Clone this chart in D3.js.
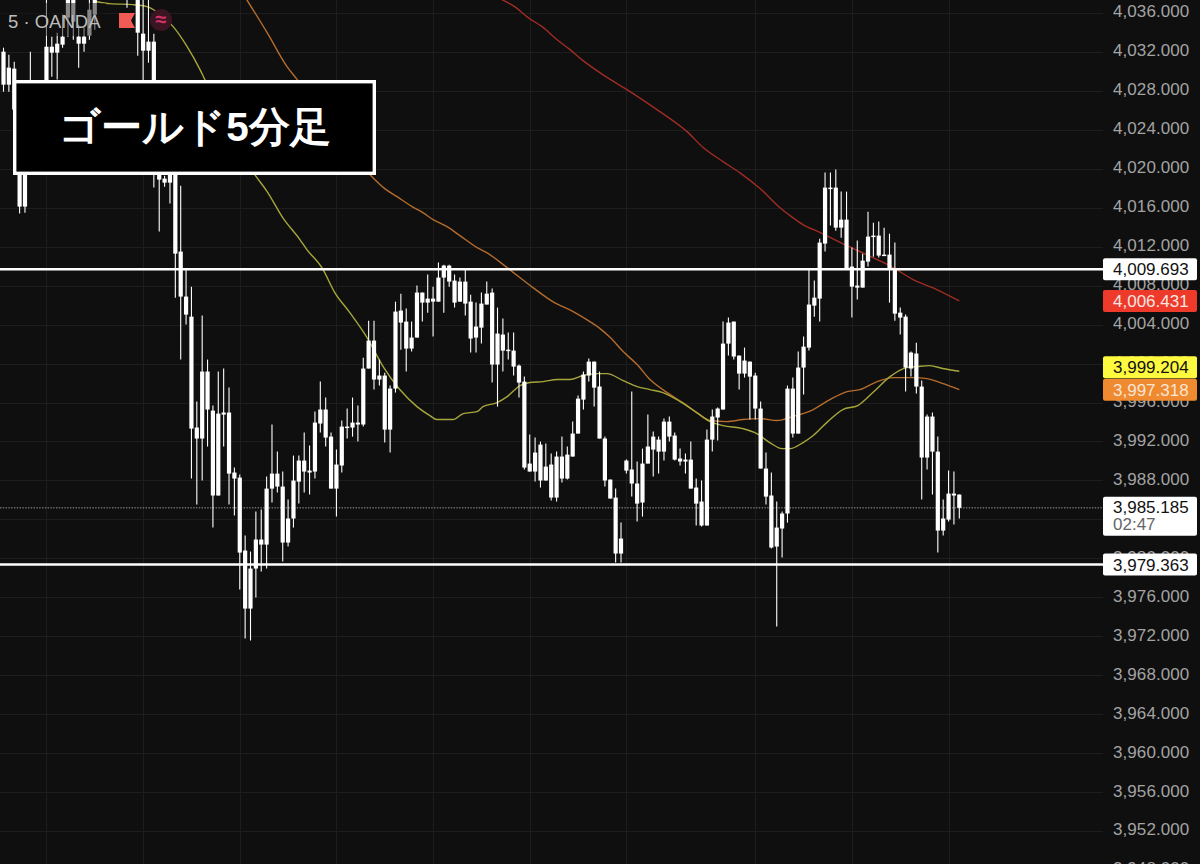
<!DOCTYPE html>
<html lang="ja">
<head>
<meta charset="utf-8">
<script src="https://cdnjs.cloudflare.com/ajax/libs/d3/7.8.5/d3.min.js"></script>
<style>
html,body{margin:0;padding:0;background:#0f0f0f;overflow:hidden}
svg{display:block}
text{font-family:"Liberation Sans",Arial,sans-serif}
</style>
</head>
<body>
<svg id="c" width="1200" height="864"></svg>
<script>
// Body top / body bottom / wick high / wick low, one entry per 5-minute candle
const bodyTop = [4032.03,4030.39,4030.29,4027.10,4024.54,4028.13,4027.62,4028.13,4032.54,4032.54,
4032.85,4033.57,4037.88,4037.88,4033.57,4033.57,4036.34,4038.19,4040.2,4041.0,
4040.6,4040.0,4039.8,4039.6,4039.4,4037.88,4033.88,4033.06,4033.06,4019.92,
4018.99,4019.92,4019.71,4011.50,4006.88,4004.82,3993.43,3999.18,3999.18,3995.17,
3994.86,3994.97,3994.97,3988.81,3988.29,3980.80,3978.95,3981.93,3981.93,3987.16,
3988.70,3988.70,3987.37,3984.09,3987.99,3990.04,3990.04,3989.01,3993.94,3995.28,
3995.28,3992.50,3989.63,3993.53,3993.53,3993.94,3993.94,3999.49,4002.36,4002.36,
3998.77,3998.77,3997.43,4005.34,4005.44,4004.31,4002.67,4007.29,4007.29,4006.67,
4006.67,4008.83,4010.06,4010.06,4008.52,4008.42,4008.42,4006.36,4003.80,4006.16,
4007.18,4007.29,4003.08,4002.98,4001.43,4001.33,3999.79,3998.15,3989.73,3990.86,
3991.68,3989.42,3989.63,3990.45,3990.45,3990.65,3992.81,3996.40,3998.87,4000.20,
4000.20,3997.64,3992.30,3988.09,3986.24,3982.03,3990.04,3989.12,3987.68,3989.73,
3991.48,3992.50,3992.19,3994.04,3994.04,3992.61,3990.25,3990.14,3990.14,3987.27,
3985.83,3992.19,3994.56,3995.38,4002.05,4004.21,4004.31,4000.82,4000.31,4000.20,
3998.77,3995.38,3989.22,3986.45,3983.16,3984.60,3997.43,3997.43,3999.59,4001.74,
4006.06,4006.77,4012.42,4018.07,4018.07,4018.07,4014.78,4014.78,4009.96,4008.01,
4010.57,4013.04,4013.14,4013.14,4011.19,4011.19,4009.65,4005.23,4004.82,4001.13,
4001.03,3997.64,3994.56,3994.56,3990.96,3984.09,3986.65,3986.65,3986.55];
const bodyBottom = [4028.64,4028.64,4026.08,4016.12,4016.12,4026.08,4025.56,4025.26,4025.05,4031.93,
4031.93,4032.75,4035.52,4035.11,4032.85,4032.85,4033.67,4035.83,4038.6,4039.4,
4039.2,4038.8,4038.6,4038.2,4038.0,4033.98,4032.13,4032.13,4019.51,4018.89,
4018.58,4018.58,4011.29,4006.88,4005.03,3993.32,3992.30,3992.30,3995.28,3986.45,
3986.45,3994.76,3988.70,3988.19,3980.59,3974.84,3974.84,3978.95,3981.41,3981.41,
3987.16,3987.37,3981.62,3981.62,3984.09,3987.88,3988.91,3988.81,3988.91,3993.84,
3992.40,3987.16,3987.16,3989.53,3993.43,3993.43,3993.74,3993.74,3999.49,3998.36,
3998.36,3993.22,3993.22,3997.43,4004.21,4001.54,4001.54,4002.67,4006.26,4006.26,
4006.36,4006.36,4008.83,4008.42,4006.26,4006.36,4006.16,4002.57,4002.67,4003.69,
4006.06,3999.90,3999.90,4001.33,4001.33,3999.69,3998.05,3989.32,3988.91,3988.91,
3987.99,3987.99,3986.24,3986.24,3988.19,3988.19,3990.45,3992.81,3996.30,3998.77,
3997.53,3992.30,3987.99,3986.14,3980.49,3980.49,3989.01,3987.68,3985.62,3985.73,
3989.73,3991.17,3990.96,3990.96,3992.50,3990.14,3989.94,3989.94,3987.16,3985.62,
3983.37,3983.37,3992.19,3994.46,3995.28,4002.05,4000.72,3998.97,3998.97,3998.66,
3995.38,3989.22,3986.34,3981.11,3981.21,3983.06,3984.60,3992.81,3992.81,3999.59,
4001.64,4005.95,4006.67,4012.32,4017.97,4013.96,4013.96,4009.75,4007.90,4007.80,
4007.80,4010.47,4013.04,4011.09,4011.09,4009.65,4005.13,4004.72,3999.59,3999.49,
3997.64,3990.35,3990.35,3990.96,3982.85,3982.85,3983.98,3986.45,3985.185];
const wickHigh = [4032.44,4031.72,4031.00,4027.62,4025.56,4032.03,4028.33,4028.64,4037.88,4033.57,
4033.98,4035.83,4038.40,4038.40,4034.80,4034.50,4037.88,4038.60,4041.0,4041.6,
4041.4,4040.8,4040.4,4040.2,4040.0,4038.40,4037.88,4037.88,4033.88,4021.97,
4019.30,4020.43,4019.92,4018.27,4009.65,4007.90,3996.10,4004.93,4000.41,3995.69,
3999.18,3999.49,3997.53,3989.32,3988.60,3982.34,3980.70,3984.80,3985.01,3988.40,
3993.74,3990.96,3988.91,3986.04,3990.55,3990.55,3992.91,3991.58,3995.07,3998.15,
3996.51,3992.91,3991.17,3994.15,3995.38,3996.51,3995.69,4000.61,4004.41,4004.41,
4000.41,3999.07,3997.74,4006.36,4007.18,4005.65,4004.31,4008.01,4007.29,4009.14,
4007.90,4010.37,4010.16,4010.16,4009.14,4008.83,4009.65,4007.08,4006.26,4007.29,
4008.42,4007.70,4005.75,4004.62,4003.18,4003.18,3999.90,3998.66,3992.71,3992.40,
3991.99,3991.78,3990.76,3990.96,3992.50,3991.48,3994.04,3996.71,3999.18,4000.51,
4000.20,3999.18,3992.50,3988.09,3987.16,3983.67,3990.14,3997.12,3989.94,3991.27,
3994.76,3993.02,3992.50,3994.35,3994.56,3992.91,3991.27,3990.76,3991.99,3988.19,
3987.99,3993.22,3995.28,3995.48,4004.31,4004.72,4004.31,4000.82,4001.64,4000.20,
3999.07,3996.10,3990.86,3988.81,3985.83,3984.80,3997.74,3998.56,4001.23,4002.77,
4009.65,4008.52,4012.83,4019.61,4019.61,4019.92,4017.66,4017.66,4011.91,4012.63,
4011.29,4015.60,4014.47,4014.58,4013.96,4013.34,4012.42,4005.75,4005.03,4001.23,
4002.15,3998.25,3994.76,3994.97,3992.50,3986.04,3989.01,3988.91,3986.55];
const wickLow = [4027.92,4027.92,4025.26,4015.40,4015.50,4024.54,4024.54,4024.02,4024.02,4029.46,
4029.16,4032.44,4033.57,4033.26,4030.39,4032.03,4033.26,4034.29,4037.8,4038.2,
4038.4,4038.2,4038.0,4036.55,4037.7,4031.62,4027.10,4030.90,4018.07,4013.55,
4018.17,4016.43,4006.77,4000.41,4004.00,3988.19,3985.52,3987.99,3991.48,3983.16,
3986.45,3991.48,3985.52,3984.39,3976.80,3971.76,3971.56,3975.97,3978.64,3978.95,
3985.73,3986.75,3979.67,3981.21,3983.16,3985.62,3986.75,3986.55,3988.19,3992.91,
3991.48,3987.16,3984.29,3988.81,3992.30,3992.50,3991.99,3993.53,3999.49,3997.33,
3997.74,3991.89,3990.86,3997.02,4001.43,3999.18,4001.23,4002.67,4004.31,4005.23,
4002.77,4006.36,4005.23,4007.90,4005.75,4006.36,4004.93,4001.13,4001.13,4002.05,
4006.06,3998.05,3995.58,3999.18,4000.41,3998.77,3996.51,3989.12,3988.91,3987.88,
3987.27,3987.99,3985.93,3985.83,3987.78,3988.09,3990.45,3992.81,3995.28,3998.15,
3995.58,3992.30,3987.37,3986.14,3979.57,3979.57,3988.70,3986.34,3983.78,3984.29,
3989.73,3988.40,3988.70,3990.04,3991.99,3990.04,3989.53,3988.70,3987.16,3983.37,
3983.26,3983.37,3990.96,3992.09,3995.28,4000.82,4000.41,3997.33,3998.56,3994.25,
3994.25,3989.22,3985.52,3981.01,3973.00,3980.08,3983.67,3992.40,3992.81,3996.82,
4001.33,4004.82,4004.31,4011.50,4014.17,4013.65,4012.93,4009.75,4004.72,4006.57,
4007.80,4009.96,4010.98,4010.88,4011.09,4006.26,4004.41,4002.98,3997.12,3998.66,
3996.92,3986.04,3989.12,3986.55,3980.59,3982.34,3983.78,3983.47,3984.09];

// Moving averages: candle position and price
const yellowIdx = [17.4,19.8,24.1,26.7,29.7,31.6,34.2,36.6,37.5,46.8,49.1,52,55.2,56.5,59.3,61.7,64.5,67.7,70.7,73.8,77,79.4,80.7,83.7,85.6,88.2,89.3,91.9,93.8,96.2,98,100.5,103.1,105.5,107.9,110.5,112.4,115.4,118,120.4,122.8,126,129.1,131.6,134,137.7,140.3,142.7,145,146.5,148.9,150.8,153.5,156.3,159.1,161.9,165.1,168.2,170.1,172.5,174.9,178];
const yellowVal = [4037.16,4036.96,4036.86,4036.65,4035.62,4034.60,4032.54,4030.18,4029.16,4019.40,4017.66,4014.99,4012.73,4011.70,4009.85,4007.29,4005.23,4002.67,3999.69,3997.33,3995.58,3994.66,3994.25,3994.25,3994.86,3995.07,3995.58,3995.99,3996.61,3997.74,3998.05,3998.15,3998.36,3998.36,3998.77,3998.97,3998.97,3998.25,3997.64,3997.33,3997.02,3996.10,3994.97,3994.04,3993.63,3993.32,3992.81,3991.89,3991.27,3991.27,3991.89,3992.61,3994.04,3995.28,3995.69,3997.02,3998.66,3999.59,3999.69,3999.79,3999.49,3999.204];
const orangeIdx = [45.3,49.1,52.8,54.7,68.6,71,73.3,76.1,78.1,80,82.6,85,88.2,90,93.8,98.6,102.3,106.1,109.2,111.1,113,115.4,118,120.4,123.6,126.5,129.1,131.6,134.7,137.7,140.9,144.1,147,150.8,153.9,157.1,159.5,162.7,165.7,169.5,172,175,178];
const orangeVal = [4037.37,4033.98,4030.49,4029.16,4019.20,4017.97,4017.14,4016.12,4015.50,4014.78,4014.06,4013.14,4011.91,4011.39,4009.85,4007.80,4006.36,4005.34,4004.31,4003.59,4002.67,4001.23,3999.90,3998.36,3997.02,3995.99,3994.97,3994.15,3994.04,3994.25,3994.35,3994.15,3994.56,3995.28,3996.30,3997.12,3997.33,3998.15,3998.56,3998.56,3998.46,3997.94,3997.318];
const redIdx = [92.8,95.2,97.7,100.3,103.1,105.5,107.7,111.6,116.1,121.7,123.6,127.3,130.3,134,137.1,140.9,144.6,147,148.9,152.1,157.1,161.9,165.7,169.4,173.8,178];
const redVal = [4037.37,4036.65,4035.52,4034.60,4033.26,4032.24,4031.21,4029.67,4028.13,4026.08,4025.36,4023.82,4022.18,4020.74,4019.61,4017.97,4016.01,4014.99,4014.27,4013.45,4012.11,4010.88,4009.85,4008.62,4007.60,4006.431];

// Levels, ticks and labels
const upperLevel = 4009.693;
const lowerLevel = 3979.363;
const lastPrice = 3985.185;
const countdown = "02:47";
const priceTicks = d3.range(3948, 4037, 4);
const timeGridIdx = [8,26,44,62,80,98,116,140,158,176];
const axisTags = [
  {v:lowerLevel, fill:"#ffffff", text:"#111111"},
  {v:3997.318, fill:"#ef8a31", text:"#f8e6d4"},
  {v:3999.204, fill:"#fdf93f", text:"#111111"},
  {v:4006.431, fill:"#ee3a2b", text:"#f5e6e0"},
  {v:upperLevel, fill:"#ffffff", text:"#111111"}
];
const titleText = "ゴールド5分足";
const legendText = "5 · OANDA";

const W = 1200, H = 864, plotRight = 1103;
const svg = d3.select("#c");
const x = d3.scaleLinear().domain([0,178]).range([3.5,959.3]);
const y = d3.scaleLinear().domain([3952,4036]).range([831,13]);
const fmt = d3.format(",.3f");

svg.append("rect").attr("width",W).attr("height",H).attr("fill","#0f0f0f");

// grid
const grid = svg.append("g").attr("stroke","#1d1d1d").attr("stroke-width",1);
grid.selectAll("line.h").data(priceTicks).join("line").attr("class","h")
  .attr("x1",0).attr("x2",plotRight).attr("y1",d=>Math.round(y(d))+.5).attr("y2",d=>Math.round(y(d))+.5);
grid.selectAll("line.v").data(timeGridIdx).join("line").attr("class","v")
  .attr("x1",d=>Math.round(x(d))+.5).attr("x2",d=>Math.round(x(d))+.5).attr("y1",0).attr("y2",H);

// moving averages
const line = d3.line().x(d=>x(d[0])).y(d=>y(d[1])).curve(d3.curveMonotoneX);
[[redIdx,redVal,"#a02c24"],[orangeIdx,orangeVal,"#b56c2c"],[yellowIdx,yellowVal,"#a6a63c"]].forEach(([a,b,c])=>{
  svg.append("path").attr("d",line(d3.zip(a,b))).attr("fill","none").attr("stroke",c).attr("stroke-width",1.4);
});

// last price dotted line
svg.append("line").attr("x1",0).attr("x2",plotRight).attr("y1",y(lastPrice)).attr("y2",y(lastPrice))
  .attr("stroke","#9a9a9a").attr("stroke-width",1).attr("stroke-dasharray","1.4 1.4");

// candles
const candles = bodyTop.map((t,i)=>({i,t,b:bodyBottom[i],h:wickHigh[i],l:wickLow[i]}));
const cg = svg.append("g");
cg.selectAll("line").data(candles).join("line")
  .attr("x1",d=>x(d.i)).attr("x2",d=>x(d.i)).attr("y1",d=>y(d.h)).attr("y2",d=>y(d.l))
  .attr("stroke","#ffffff").attr("stroke-width",1.1);
cg.selectAll("rect").data(candles).join("rect")
  .attr("x",d=>x(d.i)-2.1).attr("width",4.2)
  .attr("y",d=>y(d.t)).attr("height",d=>Math.max(1.5,y(d.b)-y(d.t)))
  .attr("fill","#ffffff");

// horizontal levels
svg.selectAll("line.level").data([upperLevel,lowerLevel]).join("line").attr("class","level")
  .attr("x1",0).attr("x2",plotRight).attr("y1",d=>y(d)).attr("y2",d=>y(d))
  .attr("stroke","#ffffff").attr("stroke-width",2.4);

// legend over candles
svg.append("rect").attr("x",0).attr("y",3).attr("width",106).attr("height",33).attr("fill","#0f0f0f").attr("opacity",.5);
svg.append("text").attr("x",8).attr("y",27.5).attr("fill","#bcbcbc").attr("font-size",18.5).text(legendText);
svg.append("path").attr("fill","#f25a55")
  .attr("d",d3.line()([[119,13],[135,13],[131,20.5],[135,28],[119,28]])+"Z");
svg.append("circle").attr("cx",161).attr("cy",20).attr("r",11).attr("fill","#3b1622");
svg.append("text").attr("x",161).attr("y",26).attr("text-anchor","middle").attr("fill","#d63068")
  .attr("font-size",20).attr("font-weight",700).attr("font-family","DejaVu Sans").text("≈");

// price axis
const axis = d3.axisRight(y).tickValues(priceTicks).tickFormat(fmt).tickSize(0).tickPadding(0);
const ag = svg.append("g").attr("transform",`translate(1113,-1.5)`).call(axis);
ag.select(".domain").remove();
ag.selectAll("text").attr("fill","#a3a3a3").attr("font-size",17).attr("font-family",'"Liberation Sans",Arial,sans-serif').attr("letter-spacing",".08");

// axis tags, stacked upward from the lowest so neighbours do not collide
const tagH = 22, tagGap = .5;
let prevTagY = Infinity;
axisTags.forEach(t=>{ t.py = Math.min(y(t.v), prevTagY - tagH - tagGap); prevTagY = t.py; });
const tags = svg.selectAll("g.tag").data(axisTags).join("g").attr("class","tag")
  .attr("transform",d=>`translate(1103,${d.py})`);
tags.append("rect").attr("x",0).attr("y",-tagH/2).attr("width",94).attr("height",tagH).attr("rx",2).attr("fill",d=>d.fill);
tags.append("text").attr("x",10).attr("y",6).attr("fill",d=>d.text).attr("font-size",17).text(d=>fmt(d.v));

// last price tag with countdown
const lg = svg.append("g").attr("transform",`translate(1103,${y(lastPrice)})`);
lg.append("rect").attr("x",0).attr("y",-11).attr("width",94).attr("height",39).attr("rx",2).attr("fill","#ffffff");
lg.append("text").attr("x",10).attr("y",5).attr("fill","#111111").attr("font-size",17).text(fmt(lastPrice));
lg.append("text").attr("x",10).attr("y",22).attr("fill","#666666").attr("font-size",17).text(countdown);

// title box
svg.append("rect").attr("x",14.7).attr("y",81.7).attr("width",359.6).attr("height",91.6)
  .attr("fill","#000000").attr("stroke","#ffffff").attr("stroke-width",3.4);
svg.append("text").attr("x",195).attr("y",141).attr("text-anchor","middle").attr("fill","#ffffff")
  .attr("font-size",40.5).attr("font-weight",700)
  .attr("font-family",'"Noto Sans CJK JP","Liberation Sans",sans-serif').text(titleText);
</script>
</body>
</html>
